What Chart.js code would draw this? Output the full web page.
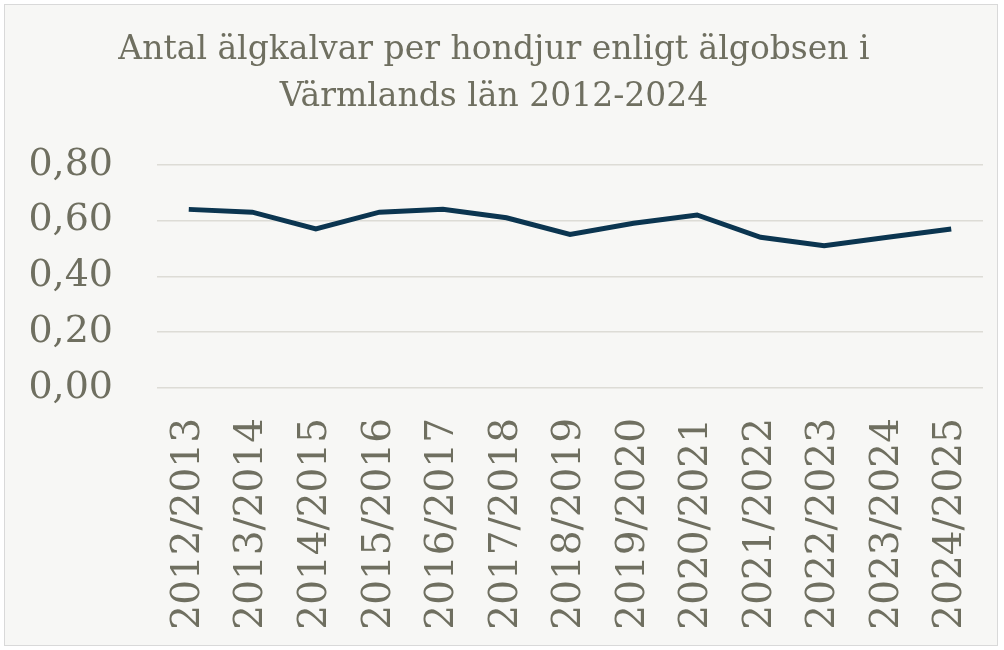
<!DOCTYPE html>
<html>
<head>
<meta charset="utf-8">
<script src="https://cdn.jsdelivr.net/npm/chart.js@4"></script>
<style>
  html, body { margin: 0; padding: 0; background: #ffffff; }
  #wrap {
    position: absolute; left: 4px; top: 4px; width: 994px; height: 642px;
    border: 1px solid #d9d9d9; background: #f7f7f5; box-sizing: border-box;
  }
  canvas { display: block; }
</style>
</head>
<body>
<div id="wrap"><canvas id="chart" width="992" height="640"></canvas></div>
<script>
// --- DATA ---
const seasons = ['2012/2013', '2013/2014', '2014/2015', '2015/2016', '2016/2017', '2017/2018',
  '2018/2019', '2019/2020', '2020/2021', '2021/2022', '2022/2023', '2023/2024', '2024/2025'];
const calvesPerCow = [0.64, 0.63, 0.57, 0.63, 0.64, 0.61, 0.55, 0.59, 0.62, 0.54, 0.51, 0.54, 0.57];
const yTicks = [0, 0.2, 0.4, 0.6, 0.8];

const textColor = '#6f6f60';
const lineColor = '#0b3550';
const fontFamily = '"DejaVu Serif", serif';

const ctx = document.getElementById('chart').getContext('2d');
new Chart(ctx, {
  type: 'line',
  data: {
    labels: seasons,
    datasets: [{
      data: calvesPerCow,
      borderColor: lineColor,
      borderWidth: 5,
      pointRadius: 0,
      tension: 0,
      fill: false
    }]
  },
  options: {
    responsive: false,
    animation: false,
    layout: { padding: { top: 10, right: 14, left: 0, bottom: 6 } },
    plugins: {
      legend: { display: false },
      tooltip: { enabled: false },
      title: {
        display: true,
        text: ['Antal älgkalvar per hondjur enligt älgobsen i', 'Värmlands län 2012-2024'],
        color: textColor,
        font: { family: fontFamily, size: 33, weight: 'normal', lineHeight: 1.42 },
        padding: { top: 12, bottom: 44 }
      }
    },
    scales: {
      y: {
        min: 0,
        max: 0.8,
        afterBuildTicks: axis => { axis.ticks = yTicks.map(v => ({ value: v })); },
        afterFit: axis => { axis.width = 152; },
        border: { display: false },
        grid: { color: '#dddcd6', lineWidth: 1.5, drawTicks: false },
        ticks: {
          color: textColor,
          padding: 44,
          font: { family: fontFamily, size: 38 },
          callback: v => v.toFixed(2).replace('.', ',')
        }
      },
      x: {
        offset: true,
        border: { display: false },
        grid: { display: false },
        afterFit: axis => {
          axis.height = 251;
          axis.paddingLeft = 0;
          axis.paddingRight = 0;
        },
        ticks: {
          color: textColor,
          minRotation: 90,
          maxRotation: 90,
          autoSkip: false,
          padding: 22,
          font: { family: fontFamily, size: 39 }
        }
      }
    }
  }
});
</script>
</body>
</html>
